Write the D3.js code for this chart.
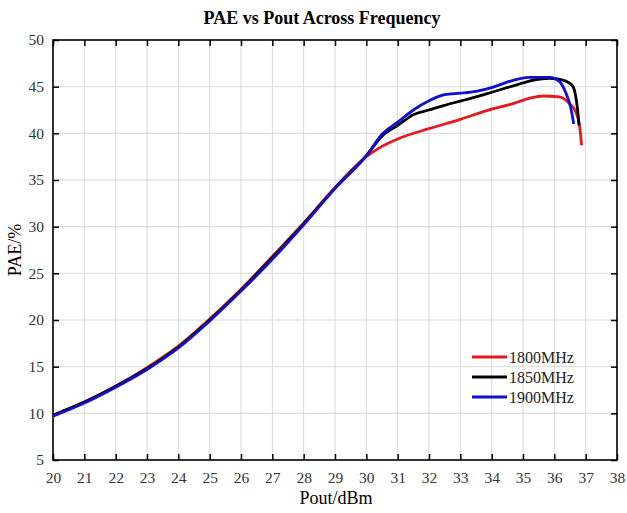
<!DOCTYPE html>
<html>
<head>
<meta charset="utf-8">
<script src="https://cdn.jsdelivr.net/npm/d3@7"></script>
<style>
  body { margin: 0; background: #fff; }
  svg { display: block; font-family: "Liberation Serif", "Times New Roman", serif; }
</style>
</head>
<body>
<div id="chart"></div>
<script>
// series data
var names = ["1800MHz", "1850MHz", "1900MHz"];
var colors = ["#e41a1c", "#000000", "#1010d0"];

var x1800 = [20,21,22,23,24,25,26,27,28,29,30,30.5,31,32,33,34,34.6,35.2,35.65,36.15,36.45,36.68,36.81,36.87];
var y1800 = [9.8,11.2,12.9,14.9,17.2,20.1,23.3,26.8,30.4,34.2,37.5,38.6,39.4,40.5,41.5,42.6,43.1,43.75,44.0,43.9,43.3,42.3,40.7,38.7];

var x1850 = [20,21,22,23,24,25,26,27,28,29,30,30.5,31,31.5,32,32.5,33,33.5,34,34.8,35.2,35.85,36.27,36.58,36.68,36.74,36.79];
var y1850 = [9.8,11.2,12.9,14.8,17.1,20.0,23.2,26.7,30.3,34.1,37.6,39.7,40.85,42.0,42.5,43.0,43.45,43.9,44.4,45.2,45.6,45.9,45.7,45.1,44.0,42.6,40.85];

var x1900 = [20,21,22,23,24,25,26,27,28,29,30,30.5,31,31.5,32,32.5,33,33.5,34,34.6,35.2,35.85,36.15,36.36,36.52,36.62];
var y1900 = [9.7,11.1,12.8,14.7,17.0,19.9,23.1,26.5,30.2,34.1,37.6,39.9,41.2,42.5,43.5,44.15,44.3,44.5,44.9,45.6,46.0,46.0,45.6,44.4,42.8,41.0];

var xTicks = d3.range(20, 39, 1);
var yTicks = d3.range(5, 51, 5);

var width = 627, height = 513;
var margin = {top: 40, right: 10, bottom: 53, left: 53};
var w = width - margin.left - margin.right,
    h = height - margin.top - margin.bottom;

var series = [
  {name: names[0], color: colors[0], xs: x1800, ys: y1800},
  {name: names[1], color: colors[1], xs: x1850, ys: y1850},
  {name: names[2], color: colors[2], xs: x1900, ys: y1900}
];

var svg = d3.select("#chart").append("svg")
    .attr("width", width)
    .attr("height", height);

var g = svg.append("g")
    .attr("transform", "translate(" + margin.left + "," + margin.top + ")");

var x = d3.scaleLinear().domain([20, 38]).range([0, w]);
var y = d3.scaleLinear().domain([5, 50]).range([h, 0]);

// grid
g.append("g").selectAll("line.vg")
  .data(xTicks.slice(1, -1))
  .enter().append("line")
    .attr("x1", function(d) { return x(d); })
    .attr("x2", function(d) { return x(d); })
    .attr("y1", 0).attr("y2", h)
    .attr("stroke", "#d9d9d9").attr("stroke-width", 1);

g.append("g").selectAll("line.hg")
  .data(yTicks.slice(1, -1))
  .enter().append("line")
    .attr("y1", function(d) { return y(d); })
    .attr("y2", function(d) { return y(d); })
    .attr("x1", 0).attr("x2", w)
    .attr("stroke", "#d9d9d9").attr("stroke-width", 1);

// axes, ticks pointing inward on all four sides
function styleAxis(sel) {
  sel.select(".domain").remove();
  sel.selectAll(".tick line").attr("stroke", "#000").attr("stroke-width", 1.5);
  sel.selectAll(".tick text")
    .attr("fill", "#333")
    .style("font-size", "15.5px")
    .style("font-family", "Liberation Serif, serif");
}

var xAxis = g.append("g")
    .attr("transform", "translate(0," + h + ")")
    .call(d3.axisBottom(x).tickValues(xTicks).tickFormat(d3.format("d")).tickSizeInner(-6).tickSizeOuter(0).tickPadding(12));
styleAxis(xAxis);

var yAxis = g.append("g")
    .call(d3.axisLeft(y).tickValues(yTicks).tickFormat(d3.format("d")).tickSizeInner(-6).tickSizeOuter(0).tickPadding(9));
styleAxis(yAxis);

var xTop = g.append("g")
    .call(d3.axisTop(x).tickValues(xTicks).tickFormat("").tickSizeInner(-6).tickSizeOuter(0));
styleAxis(xTop);

var yRight = g.append("g")
    .attr("transform", "translate(" + w + ",0)")
    .call(d3.axisRight(y).tickValues(yTicks).tickFormat("").tickSizeInner(-6).tickSizeOuter(0));
styleAxis(yRight);

// frame
g.append("rect")
    .attr("x", 0).attr("y", 0)
    .attr("width", w).attr("height", h)
    .attr("fill", "none")
    .attr("stroke", "#000")
    .attr("stroke-width", 1.6);

// lines
var line = d3.line()
    .x(function(d) { return x(d[0]); })
    .y(function(d) { return y(d[1]); })
    .curve(d3.curveMonotoneX);

series.forEach(function(s) {
  var pts = s.xs.map(function(v, i) { return [v, s.ys[i]]; });
  g.append("path")
    .datum(pts)
    .attr("fill", "none")
    .attr("stroke", s.color)
    .attr("stroke-width", 2.8)
    .attr("stroke-linejoin", "round")
    .attr("d", line);
});

// legend
var legend = g.append("g")
    .attr("transform", "translate(" + (472 - margin.left) + "," + (357 - margin.top) + ")");

series.forEach(function(s, i) {
  var row = legend.append("g").attr("transform", "translate(0," + (i * 20) + ")");
  row.append("line")
    .attr("x1", 0).attr("x2", 35)
    .attr("y1", 0).attr("y2", 0)
    .attr("stroke", s.color)
    .attr("stroke-width", 2.8);
  row.append("text")
    .attr("x", 37).attr("y", 5.5)
    .attr("fill", "#222")
    .style("font-size", "16px")
    .text(s.name);
});

// titles
svg.append("text")
    .attr("x", 322).attr("y", 24)
    .attr("text-anchor", "middle")
    .style("font-size", "18px")
    .style("font-weight", "bold")
    .text("PAE vs Pout Across Frequency");

svg.append("text")
    .attr("x", 336).attr("y", 504)
    .attr("text-anchor", "middle")
    .style("font-size", "18px")
    .text("Pout/dBm");

svg.append("text")
    .attr("transform", "translate(21," + (margin.top + h / 2) + ") rotate(-90)")
    .attr("text-anchor", "middle")
    .style("font-size", "18px")
    .text("PAE/%");
</script>
</body>
</html>
